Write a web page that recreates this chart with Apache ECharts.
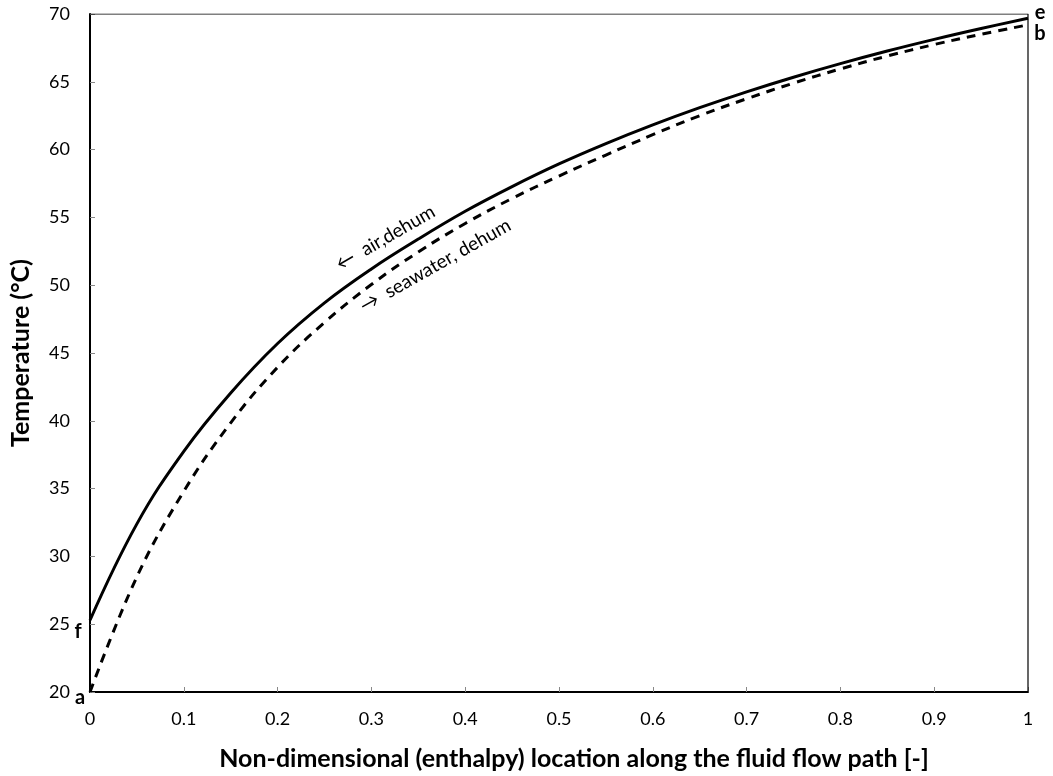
<!DOCTYPE html>
<html>
<head>
<meta charset="utf-8">
<title>Dehumidifier temperature profiles</title>
<script src="https://cdn.jsdelivr.net/npm/echarts@6/dist/echarts.min.js"></script>
<style>
  html, body { margin: 0; padding: 0; background: #ffffff; }
  #chart { width: 1053px; height: 776px; }
</style>
</head>
<body>
<div id="chart"></div>
<script>
// Non-dimensional enthalpy location along the flow path
const positions = [0, 0.05, 0.1, 0.15, 0.2, 0.25, 0.3, 0.35, 0.4, 0.45,
                   0.5, 0.55, 0.6, 0.65, 0.7, 0.75, 0.8, 0.85, 0.9, 0.95, 1.0];

// Air stream temperature in the dehumidifier (°C), f -> e
const airDehum = [25.3, 32.4, 37.75, 42.05, 45.7, 48.7, 51.2, 53.4, 55.45, 57.27,
                  58.94, 60.44, 61.82, 63.09, 64.26, 65.34, 66.34, 67.27, 68.13, 68.93, 69.68];

// Seawater temperature in the dehumidifier (°C), a -> b
const seawaterDehum = [20.0, 28.5, 34.8, 39.85, 43.95, 47.25, 50.05, 52.45, 54.55, 56.4,
                       58.05, 59.6, 61.1, 62.5, 63.75, 64.9, 65.95, 66.9, 67.75, 68.5, 69.2];

// State point letters and curve captions, in data coordinates
const pointLetters = [
  { text: 'e', x: 1.0, y: 69.7 },
  { text: 'b', x: 1.0, y: 69.2 },
  { text: 'f', x: 0.0, y: 25.3 },
  { text: 'a', x: 0.0, y: 20.0 }
];
const captions = [
  { text: '←  air,dehum', x: 0.315, y: 53.5, angle: 30 },
  { text: '→  seawater, dehum', x: 0.368, y: 51.45, angle: 29.5 }
];

const yTicks = { min: 20, max: 70, step: 5 };
const xTicks = { min: 0, max: 1, step: 0.1 };

const FONT = 'Lato, "Open Sans", "Liberation Sans", sans-serif';

const chart = echarts.init(document.getElementById('chart'), null, { renderer: 'canvas' });

const pairs = (xs, ys) => xs.map((x, i) => [x, ys[i]]);

const letterOffsets = { e: [12, -6], b: [12, 9], f: [-12, 11], a: [-10, 6] };

chart.setOption({
  animation: false,
  backgroundColor: '#ffffff',
  grid: {
    left: 90, right: 25, top: 14, bottom: 84,
    containLabel: false,
    outerBoundsMode: 'none'
  },
  xAxis: {
    type: 'value',
    min: xTicks.min, max: xTicks.max, interval: xTicks.step,
    name: 'Non-dimensional (enthalpy) location along the fluid flow path [-]',
    nameLocation: 'middle',
    nameGap: 54,
    nameTextStyle: {
      fontFamily: FONT, fontWeight: 'bold', fontSize: 25, color: '#000',
      padding: [0, 0, 0, 30]
    },
    axisLine: { show: true, onZero: false, lineStyle: { color: '#000', width: 2 } },
    axisTick: { show: true, inside: true, length: 5, lineStyle: { color: '#888', width: 1 } },
    axisLabel: {
      fontFamily: FONT, fontSize: 18, color: '#000', margin: 18,
      formatter: v => String(Math.round(v * 10) / 10)
    },
    splitLine: { show: false }
  },
  yAxis: {
    type: 'value',
    min: yTicks.min, max: yTicks.max, interval: yTicks.step,
    name: 'Temperature (°C)',
    nameLocation: 'middle',
    nameGap: 57,
    nameTextStyle: { fontFamily: FONT, fontWeight: 'bold', fontSize: 25, color: '#000' },
    axisLine: { show: true, onZero: false, lineStyle: { color: '#000', width: 2 } },
    axisTick: { show: true, inside: true, length: 5, lineStyle: { color: '#888', width: 1 } },
    axisLabel: { fontFamily: FONT, fontSize: 18, color: '#000', margin: 20 },
    splitLine: { show: false }
  },
  series: [
    {
      name: 'air,dehum',
      type: 'line',
      data: pairs(positions, airDehum),
      smooth: 0.4,
      symbol: 'none',
      lineStyle: { color: '#000', width: 3 },
      z: 3
    },
    {
      name: 'seawater, dehum',
      type: 'line',
      data: pairs(positions, seawaterDehum),
      smooth: 0.4,
      symbol: 'none',
      lineStyle: { color: '#000', width: 3, type: [9, 7] },
      z: 3
    },
    {
      // top and right border of the plot area
      type: 'line',
      data: [[0, 70], [1, 70], [1, 20]],
      symbol: 'none',
      silent: true,
      lineStyle: { color: '#000', width: 1.2 },
      z: 2
    },
    {
      type: 'scatter',
      clip: false,
      symbolSize: 1,
      silent: true,
      itemStyle: { opacity: 0 },
      data: pointLetters.map(p => ({
        value: [p.x, p.y],
        label: {
          show: true,
          formatter: p.text,
          offset: letterOffsets[p.text],
          fontFamily: FONT, fontWeight: 'bold', fontSize: 20, color: '#000', opacity: 1
        }
      })),
      label: { position: 'inside' },
      z: 5
    },
    {
      type: 'scatter',
      clip: false,
      symbolSize: 1,
      silent: true,
      itemStyle: { opacity: 0 },
      data: captions.map(c => ({
        value: [c.x, c.y],
        label: {
          show: true,
          formatter: c.text,
          rotate: c.angle,
          fontFamily: FONT, fontSize: 19, color: '#000', opacity: 1
        }
      })),
      label: { position: 'inside' },
      z: 5
    }
  ]
});
</script>
</body>
</html>
